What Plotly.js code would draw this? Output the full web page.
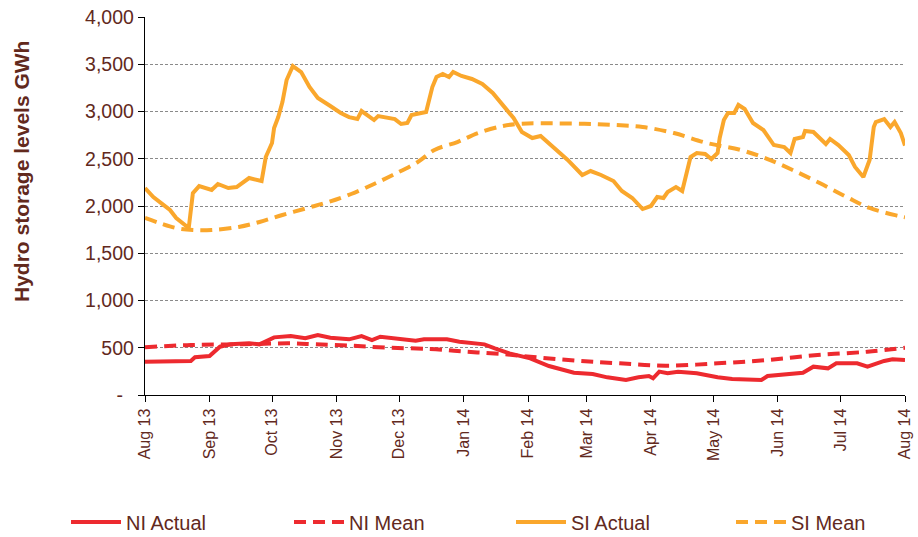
<!DOCTYPE html>
<html>
<head>
<meta charset="utf-8">
<script src="https://cdn.plot.ly/plotly-3.0.1.min.js"></script>
<style>
html,body{margin:0;padding:0;background:#fff;}
#chart{width:918px;height:537px;}
</style>
</head>
<body>
<div id="chart"></div>
<script>
// SI Actual
const siActualDates = ['2013-08-01','2013-08-05','2013-08-10','2013-08-13','2013-08-16','2013-08-22','2013-08-24','2013-08-27','2013-09-02','2013-09-05','2013-09-10','2013-09-14','2013-09-20','2013-09-26','2013-09-28','2013-10-01','2013-10-02','2013-10-04','2013-10-06','2013-10-08','2013-10-11','2013-10-15','2013-10-19','2013-10-23','2013-10-29','2013-11-03','2013-11-07','2013-11-11','2013-11-13','2013-11-19','2013-11-21','2013-11-29','2013-12-02','2013-12-05','2013-12-07','2013-12-14','2013-12-17','2013-12-19','2013-12-22','2013-12-25','2013-12-27','2013-12-31','2014-01-05','2014-01-10','2014-01-15','2014-01-20','2014-01-25','2014-01-29','2014-02-03','2014-02-07','2014-02-13','2014-02-20','2014-02-27','2014-03-03','2014-03-08','2014-03-14','2014-03-18','2014-03-23','2014-03-28','2014-04-01','2014-04-04','2014-04-07','2014-04-09','2014-04-13','2014-04-16','2014-04-20','2014-04-23','2014-04-27','2014-04-30','2014-05-03','2014-05-04','2014-05-06','2014-05-08','2014-05-11','2014-05-13','2014-05-16','2014-05-20','2014-05-25','2014-05-30','2014-06-04','2014-06-07','2014-06-09','2014-06-13','2014-06-14','2014-06-18','2014-06-24','2014-06-26','2014-06-30','2014-07-05','2014-07-08','2014-07-12','2014-07-15','2014-07-17','2014-07-18','2014-07-22','2014-07-25','2014-07-27','2014-07-30','2014-08-01'];
const siActual = [2190,2095,2010,1958,1873,1767,2137,2211,2169,2233,2190,2201,2296,2264,2518,2666,2825,2941,3100,3333,3481,3418,3259,3143,3058,2984,2941,2920,3005,2910,2952,2920,2868,2878,2963,2995,3259,3365,3397,3365,3418,3376,3344,3291,3196,3069,2931,2783,2719,2741,2624,2487,2328,2370,2328,2264,2159,2085,1968,2000,2095,2085,2148,2201,2159,2518,2561,2550,2497,2561,2719,2910,2984,2984,3069,3026,2878,2804,2645,2624,2561,2709,2730,2794,2783,2656,2709,2645,2540,2413,2307,2487,2836,2889,2920,2836,2889,2772,2640];

// SI Mean
const siMeanDates = ['2013-08-01','2013-08-08','2013-08-16','2013-08-24','2013-09-02','2013-09-15','2013-09-25','2013-10-06','2013-10-18','2013-10-28','2013-11-08','2013-11-19','2013-11-28','2013-12-10','2013-12-18','2013-12-29','2014-01-08','2014-01-20','2014-01-28','2014-02-07','2014-02-28','2014-03-15','2014-03-28','2014-04-12','2014-04-28','2014-05-14','2014-05-27','2014-06-08','2014-06-21','2014-07-04','2014-07-15','2014-07-29','2014-08-01'];
const siMean = [1873,1820,1767,1746,1746,1778,1831,1905,1979,2042,2127,2233,2328,2466,2593,2677,2772,2847,2870,2875,2870,2857,2836,2772,2666,2593,2497,2381,2243,2095,1979,1894,1880];

// NI Actual
const niActualDates = ['2013-08-01','2013-08-23','2013-08-25','2013-09-01','2013-09-06','2013-09-11','2013-09-20','2013-09-25','2013-10-02','2013-10-10','2013-10-17','2013-10-23','2013-10-29','2013-11-07','2013-11-13','2013-11-18','2013-11-22','2013-12-01','2013-12-09','2013-12-13','2013-12-24','2013-12-30','2014-01-11','2014-01-16','2014-01-23','2014-02-02','2014-02-11','2014-02-23','2014-03-04','2014-03-11','2014-03-20','2014-03-26','2014-03-31','2014-04-02','2014-04-05','2014-04-09','2014-04-14','2014-04-23','2014-05-03','2014-05-10','2014-05-24','2014-05-27','2014-06-03','2014-06-13','2014-06-18','2014-06-25','2014-06-29','2014-07-09','2014-07-14','2014-07-22','2014-07-26','2014-08-01'];
const niActual = [352,360,399,413,511,536,547,536,610,624,600,635,606,589,624,582,617,593,575,589,589,564,536,494,441,388,307,236,222,187,159,187,201,177,247,230,247,230,187,169,159,201,212,236,300,282,335,335,300,360,378,370];

// NI Mean
const niMeanDates = ['2013-08-01','2013-08-23','2013-09-16','2013-10-10','2013-10-22','2013-11-08','2013-11-26','2013-12-16','2014-01-02','2014-01-19','2014-02-07','2014-02-26','2014-03-17','2014-04-08','2014-05-03','2014-05-27','2014-06-20','2014-07-14','2014-08-01'];
const niMean = [505,529,536,547,536,522,500,487,458,434,395,360,335,310,335,370,423,458,500];

const yTickVals = [0,500,1000,1500,2000,2500,3000,3500,4000];
const yTickText = ['-\u00a0\u00a0','500','1,000','1,500','2,000','2,500','3,000','3,500','4,000'];
const yTitle = 'Hydro storage levels GWh';

const RED = '#ED2A2F';
const ORANGE = '#FAA72C';
const TXT = '#62291D';
const W = 4;
const DASH = '12px,7px';
const FONT = 'Liberation Sans, Arial, sans-serif';

const traces = [
  {x: niActualDates, y: niActual, name: 'NI Actual', legend: 'legend', type: 'scatter', mode: 'lines', line: {color: RED, width: W}},
  {x: niMeanDates, y: niMean, name: 'NI Mean', legend: 'legend2', type: 'scatter', mode: 'lines', line: {color: RED, width: W, dash: DASH, shape: 'spline'}},
  {x: siActualDates, y: siActual, name: 'SI Actual', legend: 'legend3', type: 'scatter', mode: 'lines', line: {color: ORANGE, width: W}},
  {x: siMeanDates, y: siMean, name: 'SI Mean', legend: 'legend4', type: 'scatter', mode: 'lines', line: {color: ORANGE, width: W, dash: DASH, shape: 'spline'}}
];

function leg(xpx) {
  return {
    orientation: 'h',
    xref: 'container', yref: 'container',
    x: xpx / 918, xanchor: 'left',
    y: 0.028, yanchor: 'middle',
    font: {size: 20, color: TXT, family: FONT},
    itemwidth: 50,
    bgcolor: 'rgba(0,0,0,0)'
  };
}

const layout = {
  width: 918, height: 537,
  margin: {l: 145, r: 13, t: 17, b: 142},
  paper_bgcolor: '#fff', plot_bgcolor: '#fff',
  font: {family: FONT, color: TXT},
  showlegend: true,
  hovermode: false,
  xaxis: {
    type: 'date',
    range: ['2013-08-01', '2014-08-01'],
    tick0: '2013-08-01', dtick: 'M1',
    tickformat: '%b %y',
    tickangle: -90,
    tickfont: {size: 16, color: TXT},
    ticks: 'outside', ticklen: 6, tickcolor: '#000', tickwidth: 1,
    showline: true, linecolor: '#000', linewidth: 1.2,
    showgrid: false, zeroline: false, automargin: false
  },
  yaxis: {
    range: [0, 4000],
    tickvals: yTickVals, ticktext: yTickText,
    tickfont: {size: 19.5, color: TXT},
    ticks: 'outside', ticklen: 6, tickcolor: '#000', tickwidth: 1,
    showline: true, linecolor: '#000', linewidth: 1.2,
    showgrid: true, gridcolor: '#8a8a8a', gridwidth: 1, griddash: '3px,2px',
    zeroline: false, automargin: false
  },
  annotations: [{
    text: yTitle, textangle: -90, showarrow: false,
    xref: 'paper', yref: 'paper',
    x: (22 - 145) / 760, y: (395 - 172) / 378,
    xanchor: 'center', yanchor: 'middle',
    font: {size: 21, color: TXT, family: FONT, weight: 'bold'}
  }],
  legend: leg(66),
  legend2: leg(289),
  legend3: leg(511),
  legend4: leg(731)
};

Plotly.newPlot('chart', traces, layout, {displayModeBar: false, staticPlot: true});
</script>
</body>
</html>
